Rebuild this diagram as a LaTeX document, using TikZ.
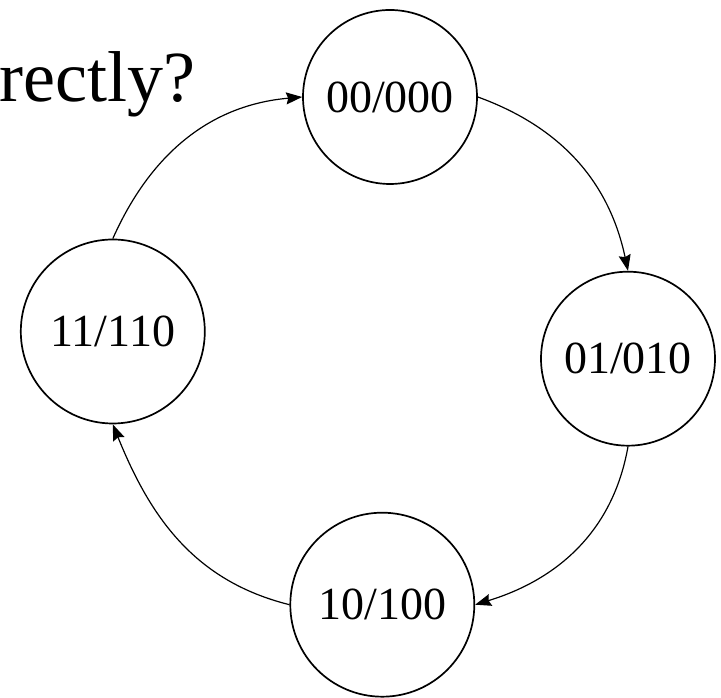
\documentclass[tikz,border=0pt]{standalone}
\usepackage{fontspec}
\setmainfont{Liberation Serif}
\usetikzlibrary{arrows.meta}
\begin{document}
\begin{tikzpicture}[x=1pt,y=1pt,
  state/.style={circle,draw,line width=1.7pt,inner sep=0pt,font=\fontsize{46}{50}\selectfont},
  small/.style={state,minimum size=174pt},
  big/.style={state,minimum size=184pt},
  trans/.style={line width=1.2pt,-{Stealth[length=16pt,width=12pt,inset=2pt]}}]
\useasboundingbox (0,0) rectangle (721,698);
\clip (0,0) rectangle (721,698);
\node[anchor=base east,inner sep=0pt,font=\fontsize{72}{80}\selectfont] (title) at (196,596.3) {rectly?};
\node[small] (A) at (390,601) {00/000};
\node[small] (B) at (628,339.3) {01/010};
\node[big] (C) at (382.3,93.3) {10/100};
\node[big] (D) at (112.8,366.5) {11/110};
\draw[trans] (D.north) to[out=66,in=185] (A.west);
\draw[trans] (A.east) to[out=-20,in=102] (B.north);
\draw[trans] (B.south) to[out=-100,in=17] (C.east);
\draw[trans] (C.west) to[out=166,in=-68] (D.south);
\end{tikzpicture}
\end{document}
